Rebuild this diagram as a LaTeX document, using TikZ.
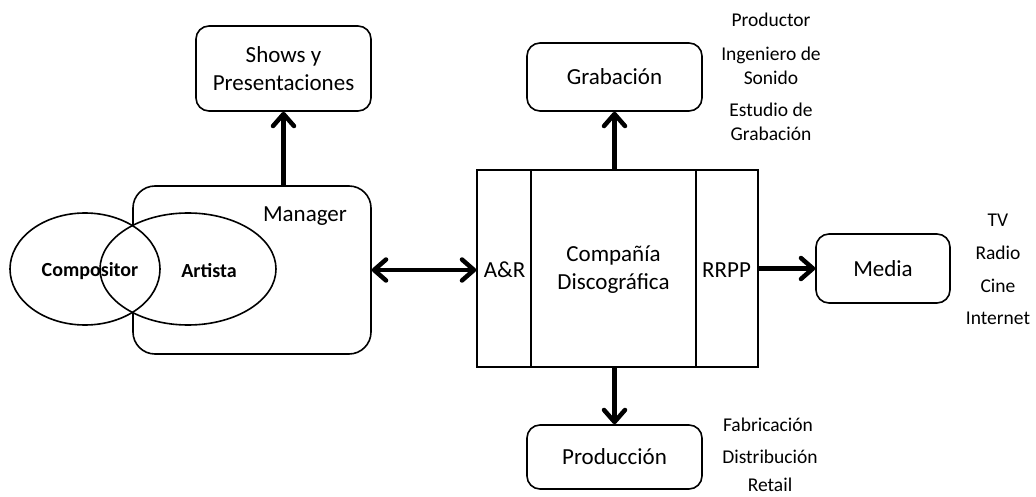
\documentclass[tikz,border=0pt]{standalone}
\usepackage{fontspec}
\setmainfont{Carlito}
\usetikzlibrary{arrows.meta,shapes.geometric}
\newcommand\mfont{\fontsize{23}{27.5}\selectfont}
\newcommand\sfont{\fontsize{19.5}{24.5}\selectfont}
\newcommand\bfont{\fontsize{20}{24}\selectfont\bfseries}
\begin{document}
\begin{tikzpicture}[x=1pt,y=-1pt,
  box/.style={draw,line width=1.6pt,rounded corners=13pt,align=center,inner sep=0pt,font=\mfont},
  txt/.style={align=center,inner sep=0pt,font=\mfont},
  lbl/.style={align=center,inner sep=0pt,font=\sfont},
  bl/.style={inner sep=0pt,font=\bfont},
  tipa/.tip={Straight Barb[length=12pt,width=21pt,round]},
  arr/.style={line width=4.5pt,-tipa},
  darr/.style={line width=4.5pt,tipa-tipa},
]
\useasboundingbox (0,0) rectangle (1036,497);

% Manager group
\node[box, minimum width=238pt, minimum height=168pt, rounded corners=22pt] (manager) at (252,270) {};
\node[txt] (managerlbl) at (305,216) {Manager};
\fill[white] (85,269) ellipse [x radius=75, y radius=56];
\fill[white] (188,269) ellipse [x radius=88, y radius=56];
\node[ellipse, draw, line width=1.6pt, inner sep=0pt, minimum width=150pt, minimum height=112pt] (compell) at (85,269) {};
\node[ellipse, draw, line width=1.6pt, inner sep=0pt, minimum width=176pt, minimum height=112pt] (artell) at (188,269) {};
\node[bl] (complbl) at (90,271) {Compositor};
\node[bl] (artlbl) at (209,271) {Artista};

% Shows
\node[box, minimum width=175pt, minimum height=85pt] (shows) at (283.5,68.5) {Shows y\\Presentaciones};

% Company
\node[draw, line width=1.6pt, inner sep=0pt, minimum width=281pt, minimum height=197pt] (big) at (617.5,268.5) {};
\draw[line width=1.6pt] ([xshift=55pt]big.north west) -- ([xshift=55pt]big.south west);
\draw[line width=1.6pt] ([xshift=-63pt]big.north east) -- ([xshift=-63pt]big.south east);
\node[txt] (ar) at (504.5,270) {A\&R};
\node[txt] (cd) at (613.5,269.5) {Compañía\\Discográfica};
\node[txt] (rrpp) at (726.5,270) {RRPP};

% Other boxes
\node[box, minimum width=175pt, minimum height=68pt] (grab) at (614.5,77) {Grabación};
\node[box, minimum width=175pt, minimum height=64pt] (prod) at (614.5,457) {Producción};
\node[box, minimum width=134pt, minimum height=69pt] (media) at (883,268.5) {Media};

% Side labels
\node[lbl] (productor) at (771,20) {Productor};
\node[lbl] (ingeniero) at (771,66) {Ingeniero de\\Sonido};
\node[lbl] (estudio) at (771,122) {Estudio de\\Grabación};
\node[lbl] (fab) at (768,425) {Fabricación};
\node[lbl] (dist) at (770,457) {Distribución};
\node[lbl] (retail) at (770,485) {Retail};
\node[lbl] (tv) at (998,220) {TV};
\node[lbl] (radio) at (998,253) {Radio};
\node[lbl] (cine) at (998,286) {Cine};
\node[lbl] (internet) at (998,318) {Internet};

% Arrows
\draw[arr] (shows.south |- manager.north) -- (shows.south);
\draw[darr] (manager.east) -- (manager.east -| big.west);
\draw[arr] (grab.south |- big.north) -- (grab.south);
\draw[arr] (prod.north |- big.south) -- (prod.north);
\draw[arr] (big.east |- media.west) -- (media.west);
\end{tikzpicture}
\end{document}
